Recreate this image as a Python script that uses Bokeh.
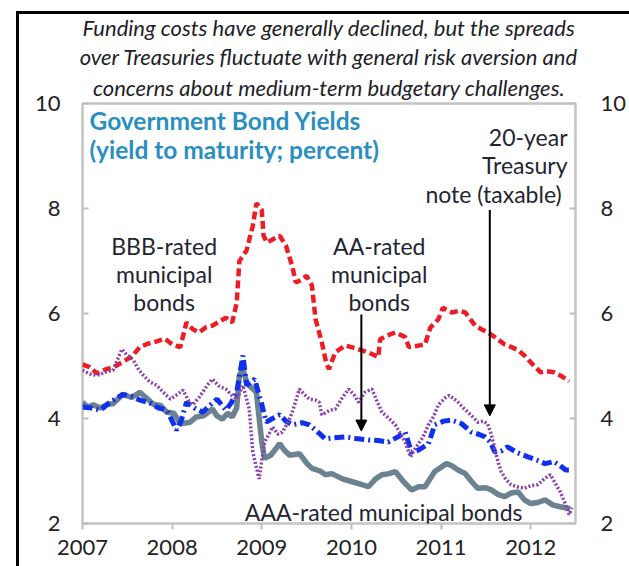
from bokeh.plotting import figure
from bokeh.models import (Range1d, LinearAxis, FixedTicker, Label, Arrow,
                          NormalHead, Title)
from bokeh.embed import file_html
from bokeh.resources import INLINE

# ---------------- data ----------------
bbb_x = [2007.00, 2007.08, 2007.16, 2007.25, 2007.35, 2007.45, 2007.55, 2007.64, 2007.72, 2007.83,
         2007.92, 2008.00, 2008.09, 2008.16, 2008.23, 2008.30, 2008.38, 2008.45, 2008.53, 2008.60,
         2008.67, 2008.72, 2008.75, 2008.83, 2008.90, 2008.94, 2009.00, 2009.02, 2009.06, 2009.13,
         2009.20, 2009.27, 2009.34, 2009.38, 2009.45, 2009.50, 2009.56, 2009.60, 2009.67, 2009.72,
         2009.75, 2009.82, 2009.93, 2010.02, 2010.11, 2010.20, 2010.30, 2010.32, 2010.40, 2010.49,
         2010.60, 2010.64, 2010.72, 2010.82, 2010.88, 2010.97, 2011.02, 2011.12, 2011.20, 2011.27,
         2011.38, 2011.45, 2011.52, 2011.60, 2011.71, 2011.80, 2011.86, 2011.93, 2012.00, 2012.11,
         2012.18, 2012.26, 2012.35, 2012.43]
bbb_y = [5.03, 4.98, 4.86, 4.93, 4.98, 5.08, 5.18, 5.36, 5.42, 5.47,
         5.52, 5.41, 5.36, 5.83, 5.70, 5.64, 5.74, 5.77, 5.85, 5.92,
         5.83, 6.20, 7.00, 7.20, 7.67, 8.10, 7.97, 7.48, 7.35, 7.42,
         7.48, 7.29, 6.90, 6.59, 6.65, 6.72, 6.53, 5.89, 5.45, 5.05,
         4.94, 5.26, 5.39, 5.35, 5.30, 5.25, 5.17, 5.51, 5.58, 5.64,
         5.55, 5.36, 5.38, 5.41, 5.73, 5.89, 6.11, 6.02, 6.05, 6.02,
         5.77, 5.70, 5.64, 5.55, 5.41, 5.35, 5.30, 5.20, 5.07, 4.88,
         4.90, 4.88, 4.80, 4.71]

tsy_x = [2007.00, 2007.10, 2007.20, 2007.30, 2007.45, 2007.55, 2007.64, 2007.75, 2007.85, 2007.94,
         2008.05, 2008.10, 2008.16, 2008.25, 2008.34, 2008.42, 2008.50, 2008.60, 2008.66, 2008.72,
         2008.79, 2008.83, 2008.88, 2008.92, 2009.00, 2009.05, 2009.12, 2009.20, 2009.27, 2009.34,
         2009.45, 2009.53, 2009.62, 2009.71, 2009.80, 2009.93, 2010.05, 2010.19, 2010.30, 2010.41,
         2010.52, 2010.60, 2010.67, 2010.75, 2010.86, 2010.93, 2011.03, 2011.12, 2011.23, 2011.34,
         2011.42, 2011.49, 2011.55, 2011.60, 2011.67, 2011.74, 2011.85, 2011.97, 2012.08, 2012.16,
         2012.26, 2012.33, 2012.39, 2012.44]
tsy_y = [4.22, 4.20, 4.16, 4.30, 4.46, 4.42, 4.35, 4.30, 4.20, 4.16,
         3.78, 3.95, 4.31, 4.20, 4.12, 4.25, 4.37, 4.16, 4.30, 4.50,
         5.20, 4.63, 4.70, 4.75, 4.27, 3.93, 4.00, 4.07, 3.95, 3.88,
         3.92, 3.88, 3.75, 3.61, 3.63, 3.65, 3.62, 3.59, 3.58, 3.55,
         3.65, 3.74, 3.36, 3.40, 3.52, 3.88, 3.95, 3.97, 3.90, 3.74,
         3.70, 3.65, 3.55, 3.36, 3.38, 3.46, 3.35, 3.27, 3.20, 3.14,
         3.18, 3.10, 3.02, 3.02]

aaa_x = [2007.00, 2007.06, 2007.12, 2007.20, 2007.28, 2007.34, 2007.45, 2007.55, 2007.64, 2007.72,
         2007.79, 2007.87, 2007.94, 2008.02, 2008.09, 2008.20, 2008.27, 2008.35, 2008.45, 2008.50,
         2008.56, 2008.62, 2008.67, 2008.72, 2008.75, 2008.79, 2008.83, 2008.86, 2008.94, 2009.00,
         2009.03, 2009.10, 2009.20, 2009.25, 2009.31, 2009.42, 2009.50, 2009.56, 2009.65, 2009.71,
         2009.78, 2009.90, 2010.00, 2010.10, 2010.19, 2010.27, 2010.34, 2010.42, 2010.49, 2010.58,
         2010.67, 2010.75, 2010.82, 2010.93, 2011.06, 2011.12, 2011.19, 2011.27, 2011.34, 2011.41,
         2011.50, 2011.56, 2011.64, 2011.71, 2011.78, 2011.86, 2011.93, 2012.00, 2012.08, 2012.16,
         2012.25, 2012.33, 2012.44]
aaa_y = [4.31, 4.22, 4.26, 4.20, 4.27, 4.28, 4.46, 4.40, 4.50, 4.38,
         4.27, 4.25, 4.12, 4.10, 3.90, 3.93, 4.03, 4.05, 4.18, 4.05,
         3.99, 4.10, 4.03, 4.20, 4.82, 4.94, 4.70, 4.63, 4.50, 3.55,
         3.24, 3.30, 3.52, 3.40, 3.30, 3.33, 3.15, 3.05, 3.00, 2.93,
         2.95, 2.85, 2.80, 2.75, 2.70, 2.85, 2.93, 2.95, 2.99, 2.80,
         2.64, 2.70, 2.70, 2.99, 3.14, 3.10, 3.02, 2.95, 2.80, 2.67,
         2.68, 2.64, 2.55, 2.51, 2.58, 2.60, 2.45, 2.38, 2.40, 2.45,
         2.35, 2.32, 2.28]

aa_x = [2007.00, 2007.08, 2007.16, 2007.25, 2007.34, 2007.44, 2007.50, 2007.56, 2007.62, 2007.68,
        2007.75, 2007.83, 2007.90, 2007.98, 2008.05, 2008.12, 2008.18, 2008.23, 2008.30, 2008.34,
        2008.40, 2008.45, 2008.52, 2008.60, 2008.66, 2008.72, 2008.79, 2008.86, 2008.90, 2008.97,
        2009.03, 2009.08, 2009.12, 2009.18, 2009.23, 2009.30, 2009.34, 2009.42, 2009.48, 2009.53,
        2009.60, 2009.64, 2009.67, 2009.75, 2009.82, 2009.90, 2009.97, 2010.03, 2010.08, 2010.15,
        2010.23, 2010.28, 2010.34, 2010.42, 2010.49, 2010.55, 2010.60, 2010.66, 2010.70, 2010.75,
        2010.80, 2010.86, 2010.92, 2010.97, 2011.05, 2011.09, 2011.14, 2011.19, 2011.25, 2011.30,
        2011.36, 2011.41, 2011.47, 2011.52, 2011.56, 2011.60, 2011.64, 2011.67, 2011.72, 2011.78,
        2011.85, 2011.93, 2012.00, 2012.08, 2012.15, 2012.22, 2012.28, 2012.33, 2012.38, 2012.43,
        2012.46]
aa_y = [4.92, 4.85, 4.82, 4.88, 4.92, 5.32, 5.20, 5.13, 4.95, 4.82,
        4.70, 4.63, 4.50, 4.37, 4.45, 4.54, 4.35, 4.26, 4.40, 4.50,
        4.65, 4.75, 4.62, 4.56, 4.45, 4.37, 4.63, 4.18, 3.36, 2.85,
        3.55, 3.70, 3.84, 3.70, 3.74, 3.95, 4.12, 4.56, 4.45, 4.37,
        4.35, 4.31, 4.07, 4.15, 4.18, 4.40, 4.56, 4.45, 4.31, 4.50,
        4.56, 4.35, 4.12, 4.00, 3.88, 3.70, 3.55, 3.27, 3.40, 3.52,
        3.65, 3.88, 4.05, 4.26, 4.40, 4.44, 4.38, 4.31, 4.20, 4.12,
        4.02, 3.93, 3.95, 3.90, 3.70, 3.42, 3.15, 2.99, 2.85, 2.74,
        2.70, 2.67, 2.72, 2.74, 2.85, 2.93, 2.75, 2.60, 2.40, 2.17,
        2.30]

year_ticks = [2007, 2008, 2009, 2010, 2011, 2012]
year_labels = ["2007", "2008", "2009", "2010", "2011", "2012"]
y_ticks = [2, 4, 6, 8, 10]

title_lines = ["Funding costs have generally declined, but the spreads",
               "over Treasuries fluctuate with general risk aversion and",
               "concerns about medium-term budgetary challenges."]
inner_title = ["Government Bond Yields", "(yield to maturity; percent)"]
bbb_note = ["BBB-rated", "municipal", "bonds"]
aa_note = ["AA-rated", "municipal", "bonds"]
tsy_note = ["20-year", "Treasury", "note  (taxable)"]
aaa_note = "AAA-rated municipal bonds"

# ---------------- figure ----------------
FONT = "Lato"
TXT = "#1f2533"

p = figure(width=613, height=555, output_backend="svg", toolbar_location=None, title=None,
           x_range=Range1d(2007, 2012.5), y_range=Range1d(2, 10),
           min_border_left=66, min_border_right=52, min_border_top=90, min_border_bottom=43,
           background_fill_color="white", border_fill_color=None)
# black panel rule along the left and top edges (drawn under the transparent border area)
p.styles = {"margin-left": "16px", "margin-top": "11px",
            "box-shadow": "inset 3px 3px 0 0 #000000"}
p.grid.visible = False
p.outline_line_color = "#c4c4c4"
p.outline_line_width = 2.5

p.xaxis.ticker = FixedTicker(ticks=year_ticks)
p.xaxis.major_label_overrides = {t: l for t, l in zip(year_ticks, year_labels)}
p.xaxis.axis_line_color = None
p.xaxis.major_tick_out = 6
p.xaxis.major_tick_in = 0
p.xaxis.major_tick_line_color = "#bdbdbd"
p.xaxis.major_tick_line_width = 2
p.xaxis.minor_tick_line_color = None
p.xaxis.major_label_standoff = 10
p.xaxis.major_label_text_font = FONT
p.xaxis.major_label_text_font_size = "22px"
p.xaxis.major_label_text_color = "#222222"

p.yaxis.ticker = FixedTicker(ticks=y_ticks)
p.yaxis.axis_line_color = None
p.yaxis.major_tick_in = 6
p.yaxis.major_tick_out = 0
p.yaxis.major_tick_line_color = "#bdbdbd"
p.yaxis.major_tick_line_width = 2
p.yaxis.minor_tick_line_color = None
p.yaxis.major_label_standoff = 22
p.yaxis.major_label_text_font = FONT
p.yaxis.major_label_text_font_size = "22px"
p.yaxis.major_label_text_color = "#222222"

ry = LinearAxis(ticker=FixedTicker(ticks=y_ticks))
ry.axis_line_color = None
ry.major_tick_in = 6
ry.major_tick_out = 0
ry.major_tick_line_color = "#bdbdbd"
ry.major_tick_line_width = 2
ry.minor_tick_line_color = None
ry.major_label_standoff = 25
ry.major_label_text_font = FONT
ry.major_label_text_font_size = "22px"
ry.major_label_text_color = "#222222"
p.add_layout(ry, "right")

# ---------------- heading (three lines, nearest the frame first) ----------------
for i, t in enumerate(reversed(title_lines)):
    p.add_layout(Title(text=t, align="center", text_font=FONT, text_font_size="22px",
                       text_font_style="italic", text_color="#1e1e28",
                       standoff=5 if i == 0 else 0), "above")

# ---------------- series ----------------
p.line(bbb_x, bbb_y, line_color="#ee1c24", line_width=4.5, line_dash="8 4")
p.line(aaa_x, aaa_y, line_color="#6b8290", line_width=5.5)
p.line(tsy_x, tsy_y, line_color="#1030f0", line_width=5, line_dash="10 4 2 4")
p.line(aa_x, aa_y, line_color="#8b3fb0", line_width=3.5, line_dash="2 2")

# ---------------- texts inside the frame ----------------
def lab(x, y, text, align="left", size="23px", style="normal", color=TXT):
    p.add_layout(Label(x=x, y=y, text=text, text_align=align, text_baseline="middle",
                       text_font=FONT, text_font_size=size, text_font_style=style,
                       text_color=color))

for yy, t in zip([9.67, 9.12], inner_title):
    lab(2007.078, yy, t, align="left", size="24.5px", style="bold", color="#2a8fbf")

for yy, t in zip([7.289, 6.758, 6.227], bbb_note):
    lab(2007.911, yy, t, align="center")
for yy, t in zip([7.289, 6.758, 6.227], aa_note):
    lab(2010.311, yy, t, align="center")
for yy, t in zip([9.36, 8.83, 8.28], tsy_note):
    lab(2012.411, yy, t, align="right")
lab(2008.811, 2.227, aaa_note, align="left")

# ---------------- arrows ----------------
p.add_layout(Arrow(x_start=2010.111, y_start=5.98, x_end=2010.111, y_end=3.76,
                   line_width=2, line_color="black",
                   end=NormalHead(size=11, fill_color="black", line_color="black")))
p.add_layout(Arrow(x_start=2011.544, y_start=7.97, x_end=2011.544, y_end=4.05,
                   line_width=2, line_color="black",
                   end=NormalHead(size=11, fill_color="black", line_color="black")))

open("out.html", "w").write(file_html(p, INLINE))
